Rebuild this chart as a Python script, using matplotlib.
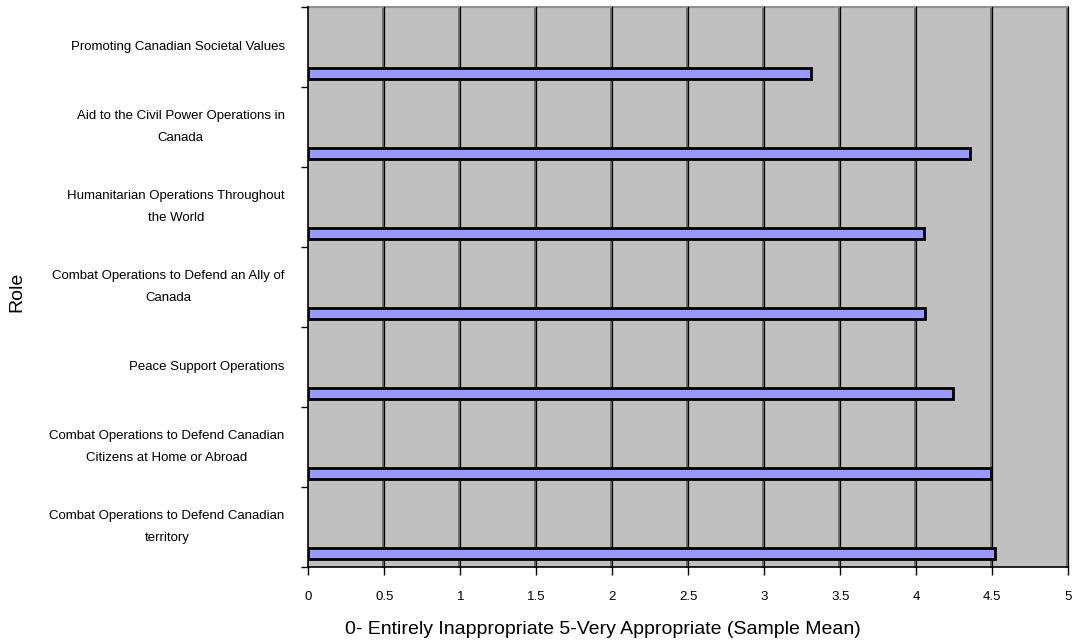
import matplotlib
matplotlib.use("Agg")
import matplotlib.pyplot as plt
import matplotlib.transforms as mtransforms

categories = [
    "Combat Operations to Defend Canadian\nterritory",
    "Combat Operations to Defend Canadian\nCitizens at Home or Abroad",
    "Peace Support Operations",
    "Combat Operations to Defend an Ally of\nCanada",
    "Humanitarian Operations Throughout\nthe World",
    "Aid to the Civil Power Operations in\nCanada",
    "Promoting Canadian Societal Values",
]
values = [4.52, 4.49, 4.24, 4.06, 4.05, 4.35, 3.31]
xticks = [0, 0.5, 1, 1.5, 2, 2.5, 3, 3.5, 4, 4.5, 5]
xtick_labels = ["0", "0.5", "1", "1.5", "2", "2.5", "3", "3.5", "4", "4.5", "5"]

plt.rcParams['font.family'] = ['Liberation Sans', 'DejaVu Sans']

fig = plt.figure(figsize=(10.73, 6.42), dpi=100)
ax = fig.add_axes([308.3 / 1073, 1 - 567 / 642, 760 / 1073, 560 / 642])
ax.set_facecolor('#C0C0C0')

n = len(categories)
ax.set_xlim(0, 5)
ax.set_ylim(0, n)

# gridlines (double: gray shadow + black line)
shadow = mtransforms.offset_copy(ax.transData, fig=fig, x=-1.2, y=0, units='dots')
for xv in xticks[1:]:
    ax.plot([xv, xv], [0, n], color='#707070', lw=1.4, transform=shadow, zorder=1, clip_on=False)
    ax.plot([xv, xv], [0, n], color='black', lw=0.9, zorder=1.1, clip_on=False)
# top border shadow
ax.plot([0, 5], [n, n], color='#909090', lw=1.5, zorder=1, clip_on=False)

ys = [k + 0.17 for k in range(n)]
ax.barh(ys, values, height=0.145, color='#9999FF', edgecolor='black', linewidth=2.0, zorder=3)

for s in ['top', 'right']:
    ax.spines[s].set_visible(False)
ax.spines['left'].set_color('black')
ax.spines['left'].set_linewidth(1.2)
ax.spines['bottom'].set_color('black')
ax.spines['bottom'].set_linewidth(1.2)

ax.set_xticks(xticks)
ax.set_xticklabels(xtick_labels, fontsize=9.5)
ax.tick_params(axis='x', direction='out', length=6, width=1.0, pad=11)

ax.set_yticks(range(n + 1))
ax.set_yticklabels([])
ax.tick_params(axis='y', direction='out', length=5, width=1.0)

for k, lab in enumerate(categories):
    ax.text(-0.155, k + 0.5, lab, ha='right', va='center', multialignment='center',
            fontsize=9.5, linespacing=2.05, transform=ax.transData)

fig.text(603 / 1073, 1 - 630 / 642, "0- Entirely Inappropriate 5-Very Appropriate (Sample Mean)",
         ha='center', va='center', fontsize=14)
fig.text(17 / 1073, 1 - 292 / 642, "Role", rotation=90, ha='center', va='center', fontsize=14)

fig.savefig("out.png", dpi=100)
